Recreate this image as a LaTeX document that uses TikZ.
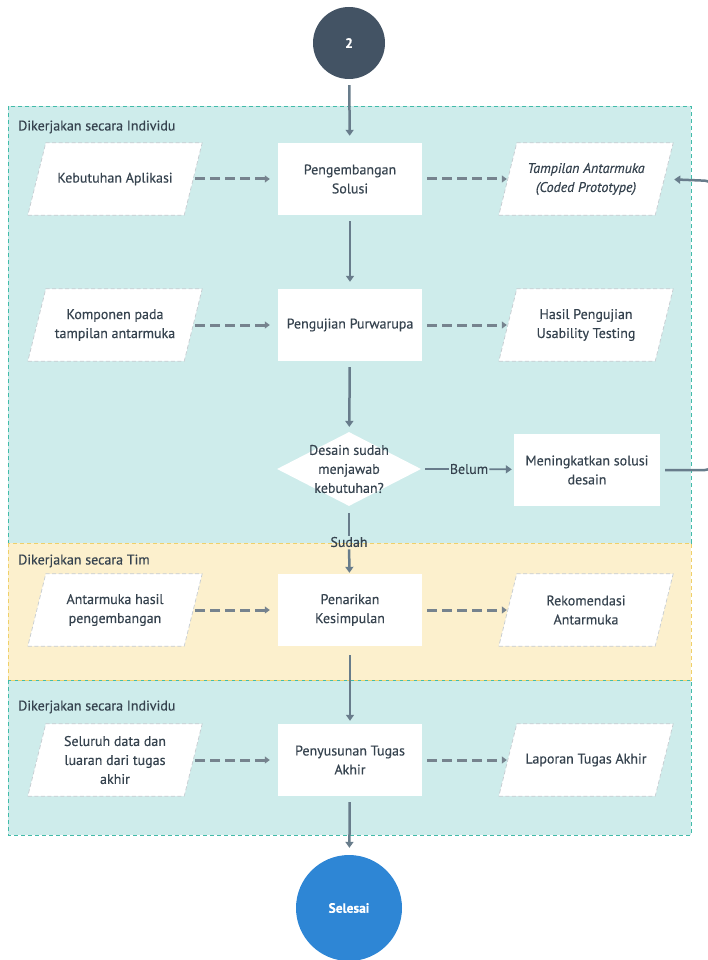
\documentclass[tikz,border=0pt]{standalone}
\usepackage{fontspec}
\setmainfont{PT Sans}[FakeBold=0.3]
\usetikzlibrary{shapes.geometric,arrows.meta,calc}

\definecolor{ink}{HTML}{36434F}
\definecolor{flow}{HTML}{687C8B}
\definecolor{dataflow}{HTML}{76838E}
\definecolor{tealfill}{HTML}{CEECEB}
\definecolor{tealline}{HTML}{42BBA9}
\definecolor{sandfill}{HTML}{FCF0CD}
\definecolor{sandline}{HTML}{EFD06A}
\definecolor{startc}{HTML}{435364}
\definecolor{endc}{HTML}{2E86D5}
\definecolor{ioedge}{HTML}{C6CCD1}

\pgfdeclarelayer{lanes}
\pgfdeclarelayer{shapes}
\pgfsetlayers{lanes,shapes,main}

\tikzset{
  txt/.style={font=\fontsize{14}{19}\selectfont, text=ink, align=center},
  lane/.style={dash pattern=on 4pt off 3pt, line width=0.9pt},
  lanelabel/.style={anchor=west, font=\fontsize{14}{16}\selectfont, text=ink, inner sep=0pt},
  proc/.style={txt, fill=white, minimum width=144pt, minimum height=72pt, inner sep=2pt},
  io/.style={txt, minimum width=156pt, minimum height=72pt, inner sep=2pt},
  iobox/.style={fill=white, draw=ioedge, dash pattern=on 4pt off 2.5pt, line width=0.7pt},
  flowarrow/.style={draw=flow, line width=2.5pt, -{Triangle[length=6pt,width=8pt]}, shorten <=6pt, shorten >=7pt},
  flowline/.style={draw=flow, line width=2.5pt},
  dataarrow/.style={draw=dataflow, line width=3pt, dash pattern=on 10pt off 5pt,
    -{Triangle[length=5pt,width=7pt]}},
}

\begin{document}
\begin{tikzpicture}[x=1pt,y=-1pt]
\useasboundingbox (0,0) rectangle (707,960);

% terminators
\node[circle, fill=startc, minimum size=72pt, inner sep=0, text=white,
      font=\fontsize{13.5}{15}\selectfont\bfseries] (start) at (349,43) {2};
\node[circle, fill=endc, minimum size=106pt, inner sep=0, text=white,
      font=\fontsize{13.5}{15}\selectfont\bfseries] (finish) at (349,908) {Selesai};

% row 1
\node[io] (need) at (115,179) {Kebutuhan Aplikasi};
\node[proc] (develop) at (350,179) {Pengembangan\\Solusi};
\node[io] (ui) at (586,179) {\itshape Tampilan Antarmuka\\\itshape (Coded Prototype)};

% row 2
\node[io] (parts) at (115,325) {Komponen pada\\tampilan antarmuka};
\node[proc] (test) at (350,325) {Pengujian Purwarupa};
\node[io] (result) at (586,325) {Hasil Pengujian\\Usability Testing};

% decision
\node[diamond, fill=white, minimum width=144pt, minimum height=74pt, inner sep=0,
      label={[txt, inner sep=0]center:Desain sudah\\menjawab\\kebutuhan?}] (check) at (349,469) {};
\node[proc, minimum width=146pt] (improve) at (587,470) {Meningkatkan solusi\\desain};
\node[txt, inner sep=1pt] (no) at (469,469) {Belum};
\node[txt, inner sep=1pt] (yes) at (349,542) {Sudah};

% row 3
\node[io] (built) at (115,610) {Antarmuka hasil\\pengembangan};
\node[proc] (conclude) at (350,610) {Penarikan\\Kesimpulan};
\node[io] (advice) at (586,610) {Rekomendasi\\Antarmuka};

% row 4
\node[io] (alldata) at (115,760) {Seluruh data dan\\luaran dari tugas\\akhir};
\node[proc] (write) at (350,760) {Penyusunan Tugas\\Akhir};
\node[io] (report) at (586,760) {Laporan Tugas Akhir};

% swimlanes
\begin{pgfonlayer}{lanes}
  \draw[lane, fill=tealfill, draw=tealline] (8,106) rectangle (691,543);
  \draw[lane, fill=tealfill, draw=tealline] (8,680) rectangle (691,835);
  \draw[lane, fill=sandfill, draw=sandline] (8,543) rectangle (691,680);
\end{pgfonlayer}
\node[lanelabel] (lane1) at (18,127) {Dikerjakan secara Individu};
\node[lanelabel] (lane2) at (18,561) {Dikerjakan secara Tim};
\node[lanelabel] (lane3) at (18,707) {Dikerjakan secara Individu};

% slanted data shapes
\begin{pgfonlayer}{shapes}
  \foreach \n in {need,ui,parts,result,built,advice,alldata,report}
    \draw[iobox] ($(\n.south west)+(-9,0)$) -- ($(\n.south east)+(-9,0)$)
      -- ($(\n.north east)+(9,0)$) -- ($(\n.north west)+(9,0)$) -- cycle;
\end{pgfonlayer}

% main flow
\draw[flowarrow] (start) -- (develop);
\draw[flowarrow] (develop) -- (test);
\draw[flowarrow, shorten >=5pt] (test) -- (check);
\draw[flowline, shorten <=7pt] (check) -- (yes);
\draw[flowarrow, shorten <=1pt, shorten >=1pt] (yes) -- (conclude);
\draw[flowarrow, shorten <=9pt, shorten >=3pt] (conclude) -- (write);
\draw[flowarrow] (write) -- (finish);

% decision branch and loop back past the right edge
\draw[flowline, line width=1.8pt, shorten <=4pt] (check) -- (no);
\draw[flowarrow, line width=1.8pt, shorten <=0pt, shorten >=2pt] (no) -- (improve);
\draw[flowarrow, rounded corners=8pt, shorten <=5pt, shorten >=10pt]
  (improve.east) -- (713,470) -- (713,181) -- (ui.east);

% data flows
\foreach \a/\b in {need/develop,parts/test,built/conclude,alldata/write}
  \draw[dataarrow, shorten <=2pt, shorten >=8pt] (\a) -- (\b);
\foreach \a/\b in {develop/ui,test/result,conclude/advice,write/report}
  \draw[dataarrow, shorten <=5pt, shorten >=1pt] (\a) -- (\b);
\end{tikzpicture}
\end{document}
